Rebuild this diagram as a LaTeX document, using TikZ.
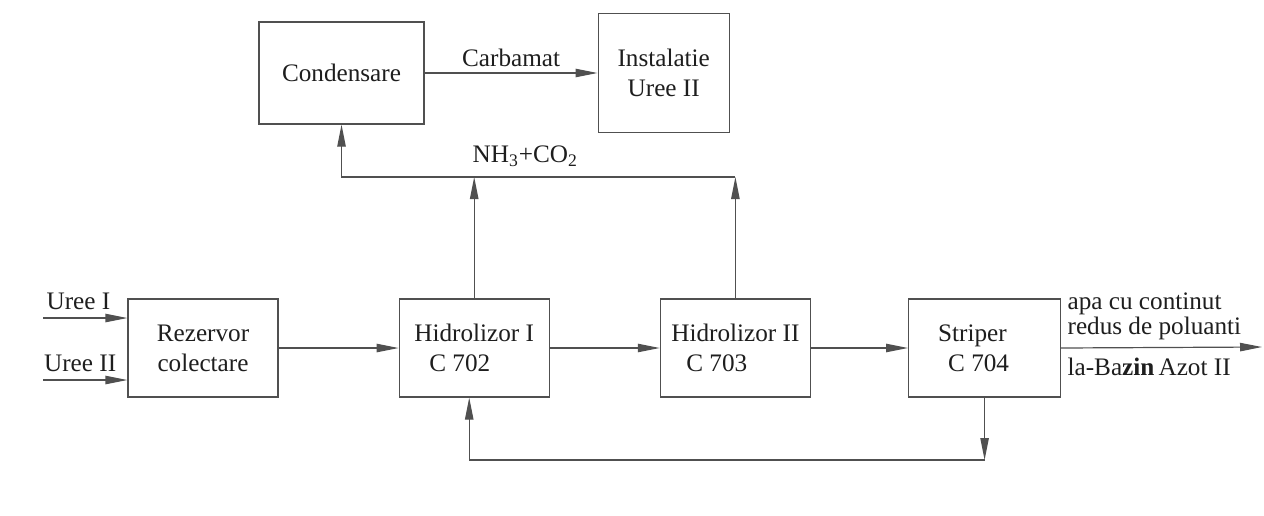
\documentclass[tikz,border=0pt]{standalone}
\usepackage{fontspec}
\setmainfont{Liberation Serif}
\usetikzlibrary{
  arrows.meta,
  positioning
}
\definecolor{flowInk}{HTML}{1E1E1E}
\definecolor{flowLine}{HTML}{505050}
\tikzset{
  every node/.style={font=\fontsize{12.6}{15}\selectfont, text=flowInk},
  block/.style={
    draw=flowLine,
    line width=0.6pt,
    fill=white,
    minimum width=75pt,
    minimum height=49pt,
    inner sep=2pt
  },
  flow/.style={
    -{Triangle[length=11pt,width=4.2pt]},
    line width=0.6pt,
    draw=flowLine
  },
  tag/.style={inner sep=2pt}
}

\begin{document}
\begin{tikzpicture}[x=0.5pt, y=-0.5pt]
  \useasboundingbox (0,0) rectangle (1264,515);

  % main line
  \node[block, align=center] (rez) at (203,348) {Rezervor\\colectare};
  \node[block, align=left, right=60pt of rez] (hydro1) {Hidrolizor I\\\hspace{7.5pt}C 702};
  \node[block, align=left, right=55pt of hydro1] (hydro2) {Hidrolizor II\\\hspace{7.5pt}C 703};
  \node[block, align=left, minimum width=76pt, right=48.5pt of hydro2] (strip)
    {Striper\hspace*{11pt}\\\hspace*{5pt}C 704\hspace*{11pt}};

  % upper part
  \node[block, minimum width=82.5pt, minimum height=51pt] (cond) at (341.5,73) {Condensare};
  \node[block, align=center, minimum width=65.5pt, minimum height=59.5pt, right=86.5pt of cond] (uree2) {Instalatie\\Uree II};

  \coordinate (in1) at (43,318);
  \coordinate (in2) at (43,380);
  \coordinate (gas) at (0,177);
  \coordinate (back) at (0,460);
  \coordinate (out) at (1262,347);

  \draw[flow] (in1) -- node[tag, pos=0.42, above=2pt] (lblin1) {Uree I} (in1 -| rez.west);
  \draw[flow] (in2) -- node[tag, pos=0.44, above=2pt] (lblin2) {Uree II} (in2 -| rez.west);
  \draw[flow] (rez) -- (hydro1);
  \draw[flow] (hydro1) -- (hydro2);
  \draw[flow] (hydro2) -- (strip);
  \draw[flow] (strip.east) -- (out);
  \draw[flow] (cond) -- node[tag, above=1pt] (lblcarb) {Carbamat} (uree2);

  \node[anchor=south west, align=left, inner sep=2pt,
        font=\fontsize{12.6}{11}\selectfont] (outtop) at ([xshift=1pt, yshift=2pt]strip.east)
    {apa cu continut\\redus de poluanti};
  \node[anchor=north west, inner sep=2pt] (outbot) at ([xshift=1pt, yshift=-3pt]strip.east)
    {la-Ba\textbf{zin}\,Azot II};

  % gas return
  \draw[flow] (hydro1.north) -- (hydro1.north |- gas);
  \draw[flow] (hydro2.north) -- (hydro2.north |- gas);
  \draw[flow] (hydro2.north |- gas) -| (cond.south);
  \node[anchor=south west, inner sep=2pt] (lblgas) at ([xshift=-3pt, yshift=3pt]hydro1.north |- gas)
    {NH\textsubscript{3}+CO\textsubscript{2}};

  % bottom recycle
  \draw[flow] (strip.south) -- (strip.south |- back);
  \draw[flow] (strip.south |- back) -| ([xshift=-2.5pt]hydro1.south);
\end{tikzpicture}
\end{document}
